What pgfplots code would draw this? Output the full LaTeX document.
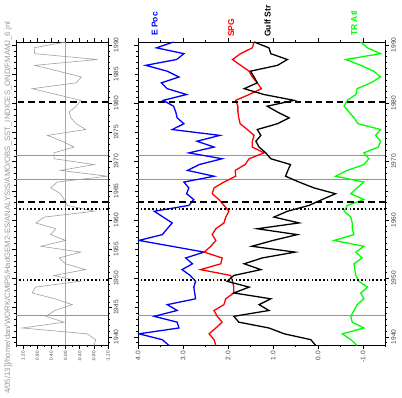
\documentclass[border=0pt]{standalone}
\usepackage{fontspec}
\setmainfont{Liberation Sans}
\usepackage{pgfplots}
\usepackage{pgfplotstable}
\pgfplotsset{compat=1.18}
\definecolor{pinkline}{RGB}{255,105,105}
\pgfplotstableread{
yr amo epoc spg gulf tratl
1938.5 -0.81 3.31 2.27 0.05 -0.87
1939.5 -0.85 3.46 2.31 0.16 -0.73
1940.5 -0.61 3.98 2.42 0.75 -0.54
1941.5 1.22 3.09 2.27 1.09 -1.02
1942.5 0.04 3.13 2.13 1.76 -0.76
1943.5 0.56 3.64 2.24 1.87 -0.73
1944.5 0.30 3.13 2.31 1.09 -0.80
1945.5 -0.19 3.35 2.09 1.31 -0.87
1946.5 0.30 2.72 2.05 1.05 -1.02
1947.5 0.94 2.74 1.87 1.87 -0.95
1948.5 0.85 2.76 1.87 1.53 -1.10
1949.5 -0.40 2.72 1.90 2.02 -0.91
1950.5 0.33 2.84 1.94 1.87 -0.84
1951.5 -0.57 3.02 2.61 1.27 -0.82
1952.5 0.00 2.79 2.16 1.64 -0.80
1953.5 0.18 2.94 2.13 1.24 -0.98
1954.5 -0.43 2.53 2.53 0.51 -0.84
1955.5 0.70 3.25 2.38 1.47 -1.02
1956.5 0.00 3.98 2.27 1.00 -0.36
1957.5 0.42 3.46 2.35 0.46 -0.80
1958.5 0.28 3.35 2.27 1.35 -0.76
1959.5 0.84 3.24 2.09 0.42 -0.76
1960.5 0.60 3.44 2.05 0.98 -0.73
1961.5 -0.81 3.64 1.98 0.68 -0.58
1962.5 -0.05 2.87 2.09 0.20 -0.65
1963.5 0.04 2.76 2.20 -0.09 -1.02
1964.5 0.14 2.92 2.35 -0.39 -0.73
1965.5 0.42 2.87 2.31 0.09 -0.87
1966.5 0.24 2.98 2.09 0.42 -1.02
1967.5 -1.18 2.31 1.83 0.72 -0.39
1968.5 0.14 2.90 1.84 0.67 -0.65
1969.5 -0.81 2.64 1.62 0.61 -1.02
1970.5 0.32 2.13 1.53 1.05 -1.13
1971.5 0.33 2.87 1.20 1.16 -1.02
1972.5 -0.24 2.31 1.46 1.31 -1.34
1973.5 0.10 2.69 1.46 1.38 -1.39
1974.5 0.51 2.18 1.42 1.27 -1.28
1975.5 -0.57 3.24 1.57 1.35 -1.39
1976.5 -0.30 2.98 1.73 0.90 -0.89
1977.5 -0.15 3.13 1.76 0.64 -0.80
1978.5 -0.10 3.16 1.78 0.90 -0.69
1979.5 -0.30 3.21 1.78 1.13 -0.58
1980.5 -0.43 3.44 1.83 0.53 -0.65
1981.5 0.25 2.92 1.53 1.20 -0.84
1982.5 0.94 3.35 1.26 1.64 -0.87
1983.5 -0.30 3.48 1.35 1.35 -1.17
1984.5 -0.45 3.09 1.46 1.42 -1.39
1985.5 0.20 3.35 1.53 1.50 -1.24
1986.5 0.87 3.83 1.72 0.90 -0.95
1987.5 -0.90 3.14 1.90 0.68 -0.62
1988.5 0.87 2.98 1.72 1.05 -1.39
1989.5 0.89 3.59 1.46 1.09 -1.10
1990.5 0.00 3.21 1.42 1.42 -0.95
}\data
\pgfplotsset{
  common/.style={
    scale only axis, height=303.5pt,
    ymin=1938.5, ymax=1990.5,
    x dir=reverse,
    tick align=outside,
    axis line style={black, line width=0.5pt},
    every tick/.style={black, line width=0.45pt},
    major tick length=4pt, minor tick length=2pt,
    xticklabel pos=left, yticklabel pos=right,
    /pgf/number format/assume math mode=true,
    y tick label style={rotate=90, anchor=north, text=black!75,
      /pgf/number format/1000 sep={}, font=\fontsize{6.6}{7}\selectfont, inner sep=1.5pt},
    x tick label style={rotate=90, anchor=east, text=black!75, inner sep=1.5pt},
  },
  dsh/.style={black, line width=1.6pt, dash pattern=on 6.5pt off 4pt},
  dtt/.style={black, line width=1.6pt, dash pattern=on 1.6pt off 2.2pt},
}
\begin{document}
\begin{tikzpicture}[x=1pt,y=1pt]
\useasboundingbox (0,0) rectangle (402,398);
% left panel
\begin{axis}[common, at={(16pt,52.5pt)}, anchor=south west, width=92pt,
  xmin=-1.2, xmax=1.4,
  xtick={-1.2,-0.8,-0.4,0,0.4,0.8,1.2},
  minor xtick={-1,-0.6,-0.2,0.2,0.6,1.0,1.4},
  x tick label style={font=\fontsize{4.6}{5}\selectfont,
    /pgf/number format/.cd, fixed, fixed zerofill, precision=2},
  ytick={1940,1945,...,1990}, minor ytick={1939,...,1990}]
\addplot[draw=pinkline, line width=0.8pt] coordinates {(-1.2,1943.6) (1.4,1943.6)};
\addplot[draw=pinkline, line width=0.8pt] coordinates {(-1.2,1966.95) (1.4,1966.95)};
\addplot[draw=pinkline, line width=0.8pt] coordinates {(-1.2,1971.05) (1.4,1971.05)};
\addplot[gray!70, line width=0.5pt] coordinates {(0,1938.5) (0,1990.5)};
\addplot[gray!75, line width=0.6pt] table[x=amo, y=yr] {\data};
\addplot[dsh] coordinates {(-1.2,1980.25) (1.4,1980.25)};
\addplot[dsh] coordinates {(-1.2,1963.05) (1.4,1963.05)};
\addplot[dtt] coordinates {(-1.2,1961.9) (1.4,1961.9)};
\addplot[dtt] coordinates {(-1.2,1949.75) (1.4,1949.75)};
\end{axis}
% right panel
\begin{axis}[common, at={(138pt,52.5pt)}, anchor=south west, width=247.5pt,
  xmin=-1.5, xmax=4,
  xtick={-1,0,1,2,3,4},
  minor xtick={-1.5,-0.5,0.5,1.5,2.5,3.5},
  x tick label style={font=\fontsize{6.6}{7}\selectfont,
    /pgf/number format/.cd, fixed, fixed zerofill, precision=1},
  ytick={1940,1950,...,1990}, minor ytick={1939,...,1990},
  extra y ticks={1945,1955,1965,1975,1985}, extra y tick labels={},
  extra y tick style={major tick length=3pt}]
\addplot[draw=pinkline, line width=0.8pt] coordinates {(-1.5,1943.6) (4,1943.6)};
\addplot[draw=pinkline, line width=0.8pt] coordinates {(-1.5,1966.95) (4,1966.95)};
\addplot[draw=pinkline, line width=0.8pt] coordinates {(-1.5,1971.05) (4,1971.05)};
\addplot[blue, line width=1.3pt] table[x=epoc, y=yr] {\data};
\addplot[red, line width=1.3pt] table[x=spg, y=yr] {\data};
\addplot[black, line width=1.3pt] table[x=gulf, y=yr] {\data};
\addplot[green, line width=1.3pt] table[x=tratl, y=yr] {\data};
\addplot[dsh] coordinates {(-1.5,1980.25) (4,1980.25)};
\addplot[dsh] coordinates {(-1.5,1963.05) (4,1963.05)};
\addplot[dtt] coordinates {(-1.5,1961.9) (4,1961.9)};
\addplot[dtt] coordinates {(-1.5,1949.75) (4,1949.75)};
\end{axis}
\node[rotate=90, anchor=west, text=blue, inner sep=0pt, font=\bfseries\fontsize{8.5}{10}\selectfont] at (154.7,362) {E Poc};
\node[rotate=90, anchor=west, text=red, inner sep=0pt, font=\bfseries\fontsize{8.5}{10}\selectfont] at (231.3,361) {SPG};
\node[rotate=90, anchor=west, text=black, inner sep=0pt, font=\bfseries\fontsize{8.5}{10}\selectfont] at (267.5,361) {Gulf Str};
\node[rotate=90, anchor=west, text=green, inner sep=0pt, font=\bfseries\fontsize{8.5}{10}\selectfont] at (354,362) {TR Atl};
\node[rotate=90, anchor=west, text=black!40, inner sep=0pt] at (8,4) {\resizebox{372pt}{!}{4/05/13]]/home/dan/WORK/CMIP5/HadGEM2-ES/ANALYSIS/AMO/OBS\_SST\_INDICES\_OND/FMAMJ\_6.jnl}};
\end{tikzpicture}
\end{document}
